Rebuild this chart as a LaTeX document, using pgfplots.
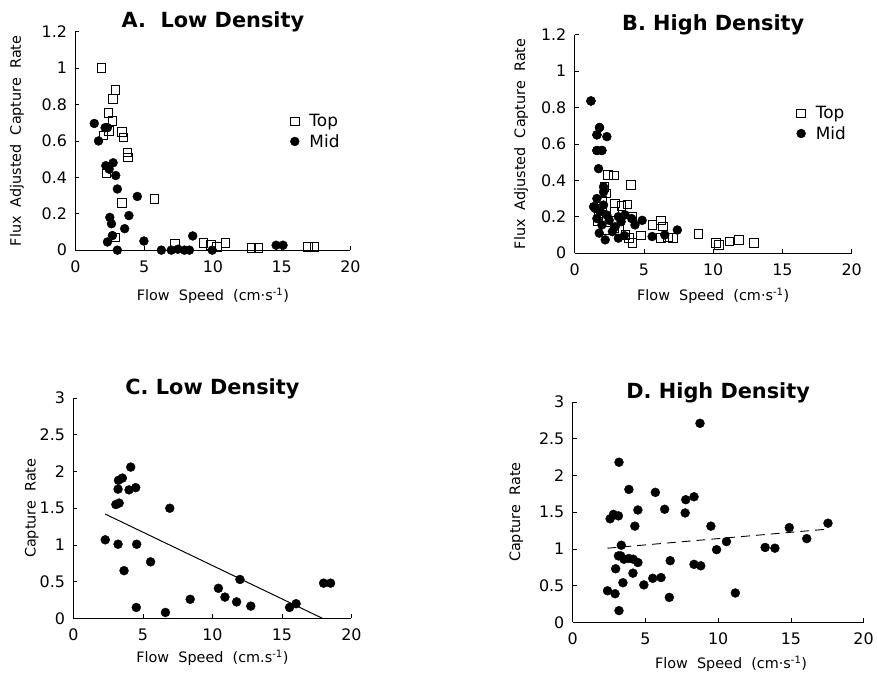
\documentclass[border=0pt]{standalone}
\usepackage{fontspec}
\setmainfont{DejaVu Sans}
\usepackage{pgfplots}
\pgfplotsset{compat=1.18}
\pgfplotsset{
  panel/.style={
    scale only axis, anchor=south west,
    axis lines=left, axis line style={-, line width=1pt},
    xmin=0, xmax=20, xtick={0,5,10,15,20},
    tick align=inside, major tick length=4pt,
    tick style={black, line width=0.7pt},
    ticklabel style={font=\fontsize{16}{18}\selectfont},
    xticklabel style={yshift=-7pt},
    yticklabel style={xshift=-5pt},
    /pgf/number format/assume math mode=true,
    /pgf/number format/fixed,
    title style={font=\bfseries\fontsize{21}{23}\selectfont, anchor=base, at={(axis description cs:0.5,1)}, yshift=-2pt},
    every axis x label/.style={at={(axis description cs:0.5,0)}, anchor=center, font=\fontsize{14.5}{16}\selectfont},
    every axis y label/.style={at={(axis description cs:0,0.5)}, anchor=center, font=\fontsize{14.5}{16}\selectfont},
    clip=false,
  },
  topm/.style={only marks, mark=square, mark size=4.3pt, mark options={draw=black, fill=white, line width=1pt}},
  midm/.style={only marks, mark=*, mark size=4.5pt, mark options={draw=black, fill=black}},
  leg/.style={legend style={draw=none, fill=none, font=\fontsize{17}{19}\selectfont, row sep=2pt},
    legend cell align=left,
    legend image code/.code={\draw[##1] plot coordinates {(0.15cm,0cm)}; \path[draw=none, fill=none] (0cm,0cm) (0.6cm,0cm);}},
}
\begin{document}
\begin{tikzpicture}
\path (0pt,0pt) rectangle (877pt,680pt);

% ---------- A ----------
\begin{axis}[panel, at={(76pt,428pt)}, width=277pt, height=220pt,
  ymin=0, ymax=1.2, ytick={0,0.2,...,1.2},
  yticklabels={0,0.2,0.4,0.6,0.8,1,1.2},
  title={A.\ \ Low Density},
  xlabel={Flow\ \ Speed\ \ (cm·s\textsuperscript{-1})}, xlabel style={yshift=-46pt},
  ylabel={Flux\ \ Adjusted\ \ Capture\ \ Rate}, ylabel style={xshift=-59pt, rotate=90},
  leg, legend style={at={(0.77,0.64)}, anchor=north west}]
\addplot[topm] coordinates {
(1.9,1.0) (2.93,0.88) (2.74,0.83) (2.40,0.755) (2.69,0.71) (2.04,0.63) (2.45,0.655)
(3.37,0.65) (3.49,0.62) (3.77,0.536) (3.82,0.51) (2.26,0.42) (3.37,0.26) (5.75,0.28)
(2.93,0.07) (7.26,0.036) (9.3,0.04) (9.86,0.027) (10.3,0.018) (10.9,0.04)
(12.8,0.013) (13.3,0.013) (16.9,0.018) (17.4,0.018)};
\addlegendentry{Top}
\addplot[midm] coordinates {
(1.37,0.696) (2.16,0.673) (2.33,0.673) (1.68,0.6) (2.21,0.464) (2.45,0.445) (2.74,0.48)
(2.93,0.41) (3.05,0.336) (4.5,0.295) (3.89,0.19) (2.5,0.18) (2.62,0.145) (3.58,0.118)
(2.69,0.08) (2.33,0.045) (3.05,0.0) (4.98,0.05) (6.25,0.0) (6.97,0.0) (7.45,0.005)
(7.93,0.0) (8.29,0.0) (8.53,0.078) (9.95,0.0) (14.6,0.027) (15.1,0.027)};
\addlegendentry{Mid}
\end{axis}

% ---------- B ----------
\begin{axis}[panel, at={(579pt,425pt)}, width=279pt, height=220pt,
  ymin=0, ymax=1.2, ytick={0,0.2,...,1.2},
  yticklabels={0,0.2,0.4,0.6,0.8,1,1.2},
  title={B. High Density},
  xlabel={Flow\ \ Speed\ \ (cm·s\textsuperscript{-1})}, xlabel style={yshift=-43pt},
  ylabel={Flux\ \ Adjusted\ \ Capture\ \ Rate}, ylabel style={xshift=-54pt, rotate=90},
  leg, legend style={at={(0.79,0.69)}, anchor=north west}]
\addplot[midm, forget plot] coordinates {
(1.17,0.836) (1.79,0.69) (1.6,0.65) (2.32,0.64) (1.6,0.564) (1.96,0.564) (1.72,0.464)
(2.08,0.364) (2.08,0.336) (1.6,0.3) (1.48,0.245) (1.84,0.227) (1.6,0.19) (1.96,0.155)
(2.49,0.18) (3.15,0.2) (3.63,0.21) (3.35,0.173) (4.11,0.19) (4.87,0.18) (1.77,0.11)
(2.2,0.073) (3.15,0.082) (3.58,0.096) (4.35,0.155) (5.59,0.091) (6.5,0.1) (7.41,0.127)
(2.92,0.145) (2.32,0.209) (2.08,0.264) (1.36,0.255) (2.72,0.118)};
\addplot[topm] coordinates {
(2.39,0.43) (2.82,0.427) (4.06,0.373) (2.15,0.364) (2.27,0.327) (2.92,0.273) (3.39,0.26)
(3.82,0.267) (1.96,0.29) (2.87,0.227) (4.16,0.2) (6.21,0.18) (5.6,0.155) (6.37,0.145)
(2.25,0.124) (2.87,0.136) (3.68,0.1) (3.92,0.082) (4.18,0.055) (4.78,0.096) (6.21,0.082)
(6.74,0.085) (7.1,0.082) (8.94,0.105) (10.2,0.055) (10.4,0.045) (11.16,0.064)
(11.85,0.073) (12.95,0.055) (1.67,0.173) (1.96,0.255) (1.72,0.21) (3.2,0.127)};
\addlegendentry{Top}
\addplot[midm] coordinates {(1.79,0.69) (1.6,0.65) (1.6,0.564) (1.96,0.564) (1.17,0.836)};
\addlegendentry{Mid}
\end{axis}

% ---------- C ----------
\begin{axis}[panel, at={(74pt,57pt)}, width=280pt, height=222pt,
  ymin=0, ymax=3, ytick={0,0.5,...,3},
  yticklabels={0,0.5,1,1.5,2,2.5,3},
  title={C. Low Density},
  xlabel={Flow\ \ Speed\ \ (cm.s\textsuperscript{-1})}, xlabel style={yshift=-40pt},
  ylabel={Capture\ \ Rate}, ylabel style={xshift=-42pt, rotate=90}]
\addplot[midm] coordinates {
(4.12,2.06) (3.52,1.91) (3.24,1.88) (3.21,1.76) (4.0,1.75) (4.48,1.78) (3.05,1.55)
(3.29,1.57) (6.93,1.5) (2.29,1.07) (3.21,1.01) (4.55,1.01) (5.55,0.77) (3.64,0.65)
(4.52,0.149) (6.62,0.081) (8.4,0.26) (10.43,0.41) (10.9,0.29) (11.98,0.53) (11.74,0.225)
(12.76,0.167) (15.55,0.149) (16.02,0.2) (18.0,0.48) (18.5,0.48)};
\addplot[black, line width=1pt] coordinates {(2.29,1.42) (17.93,0.0)};
\end{axis}

% ---------- D ----------
\begin{axis}[panel, at={(577pt,53pt)}, width=293pt, height=222pt,
  ymin=0, ymax=3, ytick={0,0.5,...,3},
  yticklabels={0,0.5,1,1.5,2,2.5,3},
  title={D. High Density},
  xlabel={Flow\ \ Speed\ \ (cm·s\textsuperscript{-1})}, xlabel style={yshift=-42pt, xshift=13pt},
  ylabel={Capture\ \ Rate}, ylabel style={xshift=-57pt, rotate=90}]
\addplot[midm] coordinates {
(8.75,2.71) (3.18,2.18) (3.86,1.81) (5.68,1.77) (7.77,1.67) (8.34,1.71) (7.73,1.49)
(6.32,1.54) (4.48,1.53) (2.57,1.41) (2.8,1.47) (3.14,1.45) (4.27,1.31) (9.5,1.31)
(14.89,1.29) (17.55,1.35) (16.09,1.14) (10.57,1.1) (9.89,0.99) (13.23,1.02) (13.9,1.01)
(3.34,1.05) (3.3,0.905) (3.52,0.86) (3.86,0.87) (4.16,0.86) (4.48,0.815) (2.95,0.73)
(3.45,0.54) (4.14,0.67) (2.39,0.43) (2.91,0.39) (3.18,0.16) (4.89,0.51) (5.5,0.6)
(6.07,0.61) (6.64,0.34) (6.7,0.84) (8.34,0.79) (8.8,0.77) (11.18,0.4) (3.14,0.905)};
\addplot[black, line width=0.9pt, dash pattern=on 9pt off 6pt] coordinates {(2.39,1.01) (17.55,1.27)};
\end{axis}
\end{tikzpicture}
\end{document}
